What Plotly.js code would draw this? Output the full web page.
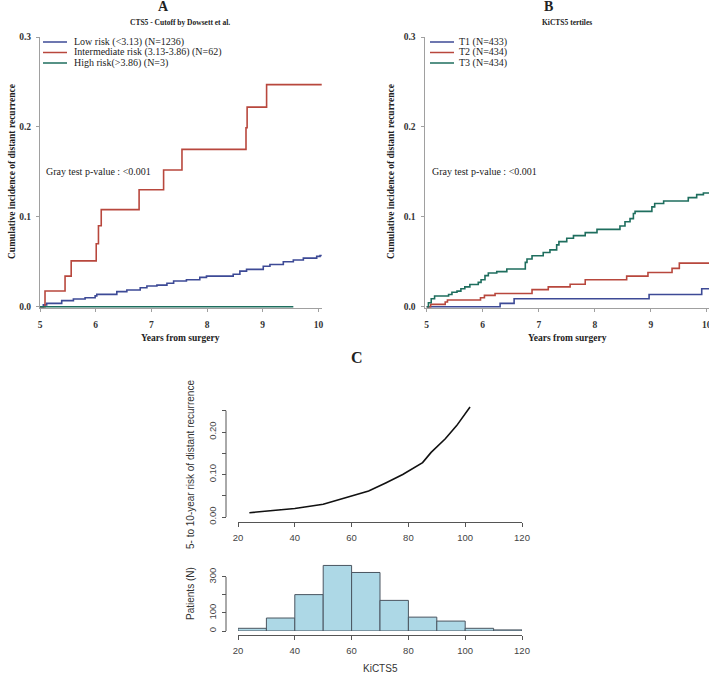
<!DOCTYPE html>
<html><head><meta charset="utf-8">
<script src="https://cdn.plot.ly/plotly-3.0.1.min.js"></script>
<style>html,body{margin:0;padding:0;background:#fff}#chart{width:709px;height:675px}</style>
</head><body><div id="chart"></div>
<script>
// ---------- Panel A: CTS5 risk groups (cumulative incidence) ----------
const lowRiskTime = [5.00,5.06,5.12,5.39,5.60,5.81,5.99,6.02,6.38,6.56,6.80,6.92,7.10,7.28,7.40,7.63,7.87,7.99,8.47,8.59,8.71,9.01,9.13,9.37,9.55,9.73,9.97,10.03,10.06];
const lowRiskCI   = [0,0.002,0.0037,0.0067,0.0085,0.010,0.012,0.0137,0.0167,0.0185,0.021,0.023,0.024,0.026,0.0285,0.030,0.0326,0.034,0.036,0.0396,0.0415,0.045,0.047,0.050,0.052,0.054,0.056,0.057,0.057];
const interRiskTime = [5.00,5.09,5.45,5.56,6.01,6.05,6.10,6.78,7.22,7.55,8.70,8.72,9.07,10.06];
const interRiskCI   = [0,0.0175,0.034,0.051,0.070,0.090,0.108,0.130,0.152,0.175,0.199,0.222,0.247,0.247];
const highRiskTime = [5.00,9.55];
const highRiskCI   = [0,0];
const seriesNamesA = ['Low risk (<3.13) (N=1236)','Intermediate risk (3.13-3.86) (N=62)','High risk(>3.86) (N=3)'];

// ---------- Panel B: KiCTS5 tertiles ----------
const t1Time = [5.00,6.31,6.56,8.97,9.91,10.04];
const t1CI   = [0,0.0037,0.0089,0.0136,0.0199,0.0199];
const t2Time = [5.00,5.07,5.33,5.37,5.96,6.03,6.22,6.88,7.17,7.56,7.83,8.57,8.95,9.38,9.51,10.04];
const t2CI   = [0,0.0026,0.0052,0.0074,0.010,0.0126,0.0147,0.019,0.022,0.025,0.030,0.034,0.038,0.0426,0.0485,0.0485];
const t3Time = [5.00,5.03,5.08,5.14,5.39,5.45,5.54,5.61,5.68,5.77,5.92,5.97,6.04,6.10,6.25,6.43,6.76,6.79,6.88,7.08,7.20,7.32,7.36,7.50,7.62,7.83,8.04,8.45,8.54,8.63,8.69,8.72,9.02,9.07,9.23,9.67,9.82,9.94,10.04];
const t3CI   = [0,0.0044,0.0088,0.0118,0.0136,0.016,0.0173,0.0199,0.022,0.0246,0.027,0.030,0.0346,0.0375,0.039,0.042,0.0493,0.053,0.0566,0.0603,0.0632,0.0688,0.0724,0.0761,0.079,0.0824,0.086,0.0897,0.0945,0.098,0.1037,0.106,0.111,0.1147,0.1176,0.1213,0.1246,0.1265,0.1265];
const seriesNamesB = ['T1 (N=433)','T2 (N=434)','T3 (N=434)'];

// ---------- Panel C: risk curve and histogram ----------
const kiScore = [24,30,40,50,58,66,72,78,85,88,93,97,101.7];
const riskVal = [0.010,0.014,0.020,0.030,0.045,0.061,0.080,0.100,0.128,0.152,0.184,0.215,0.259];
const binStart = [20,30,40,50,60,70,80,90,100,110];
const binCount = [15,72,202,364,325,170,77,55,15,6];

const xTicksAB = [5,6,7,8,9,10];
const yTicksAB = [0,0.1,0.2,0.3];
const xTicksC = [20,40,60,80,100,120];
const yTicksRisk = [0,0.05,0.10,0.15,0.20,0.25];
const yTickTextRisk = ['0.00','','0.10','','0.20',''];
const yTicksHist = [0,100,200,300];
const yTickTextHist = ['0','100','','300'];

// ---------- styling ----------
const W = 709, H = 675;
const X = p => p / W, Y = p => 1 - p / H;
const SERIF = 'Liberation Serif, Times New Roman, serif';
const SANS = 'Liberation Sans, Arial, sans-serif';
const cBlue = '#3d4a96', cRed = '#b8473d', cGreen = '#1e6e5e';

function step(x, y, color, xa, ya) {
  return {type:'scatter', mode:'lines', x:x, y:y, xaxis:xa, yaxis:ya,
          line:{shape:'hv', color:color, width:1.6}, hoverinfo:'skip'};
}

const traces = [
  step(lowRiskTime, lowRiskCI, cBlue, 'x', 'y'),
  step(interRiskTime, interRiskCI, cRed, 'x', 'y'),
  step(highRiskTime, highRiskCI, cGreen, 'x', 'y'),
  step(t1Time, t1CI, cBlue, 'x2', 'y2'),
  step(t2Time, t2CI, cRed, 'x2', 'y2'),
  step(t3Time, t3CI, cGreen, 'x2', 'y2'),
  {type:'scatter', mode:'lines', x:kiScore, y:riskVal, xaxis:'x3', yaxis:'y3',
   line:{color:'#111', width:1.6}, hoverinfo:'skip'},
  {type:'bar', x:binStart.map(b => b + 5), y:binCount, width:10, xaxis:'x4', yaxis:'y4',
   marker:{color:'#add8e6', line:{color:'#4a5560', width:1}}, hoverinfo:'skip'}
];

const axAB = (dom, rng, ticks, fmt) => ({
  domain:dom, range:rng, tickvals:ticks, tickformat:fmt, showgrid:false, zeroline:false,
  showline:true, linecolor:'#a0a0a0', linewidth:1, ticks:'outside', ticklen:3, tickcolor:'#a0a0a0',
  tickfont:{family:SERIF, size:9.5, color:'#333', weight:'bold'}, fixedrange:true, ticklabeloverflow:'allow'
});

const xA = axAB([X(40), X(322)], [5, 10.065], xTicksAB, 'd'); xA.anchor='y'; xA.ticklabelstandoff = 4;
const yA = axAB([Y(308.3), Y(37)], [-0.0018, 0.3], yTicksAB, '.1f'); yA.anchor='x'; yA.ticklabelstandoff = 3;
const xB = axAB([X(424.5), 1], [4.96, 10.04], xTicksAB, 'd'); xB.anchor='y2'; xB.ticklabelstandoff = 4;
const yB = axAB([Y(308.3), Y(37)], [-0.0018, 0.3], yTicksAB, '.1f'); yB.anchor='x2'; yB.ticklabelstandoff = 3;

const axC = {showgrid:false, zeroline:false, ticks:'outside', ticklen:4, tickcolor:'#555',
  tickfont:{family:SANS, size:9.5, color:'#444'}, fixedrange:true};

const xC = Object.assign({}, axC, {domain:[X(238), X(522)], range:[20,120], tickvals:xTicksC,
  anchor:'free', position:Y(522), showline:true, linecolor:'#555', linewidth:1, ticklabelstandoff:3});
const yC = Object.assign({}, axC, {domain:[Y(517), Y(402)], range:[0, 0.2706], tickvals:yTicksRisk,
  ticktext:yTickTextRisk, tickangle:-90, anchor:'free', position:X(226), showline:false, ticklabelstandoff:2});
const xD = Object.assign({}, axC, {domain:[X(238), X(522)], range:[20,120], tickvals:xTicksC,
  anchor:'free', position:Y(635), showline:true, linecolor:'#555', linewidth:1, ticklabelstandoff:3});
const yD = Object.assign({}, axC, {domain:[Y(631), Y(564)], range:[0, 372], tickvals:yTicksHist,
  ticktext:yTickTextHist, tickangle:-90, anchor:'free', position:X(226), showline:false, ticklabelstandoff:2});

function ann(text, px, py, opts) {
  return Object.assign({text:text, x:X(px), y:Y(py), xref:'paper', yref:'paper', showarrow:false,
    xanchor:'center', yanchor:'middle'}, opts || {});
}
const serif = (size, bold) => ({family:SERIF, size:size, color:'#222', weight: bold ? 'bold' : 'normal'});

const annotations = [
  ann('A', 163, 7, {font:serif(14, true)}),
  ann('CTS5 - Cutoff by Dowsett et al.', 180, 23, {font:serif(7.5, true)}),
  ann('B', 548, 7, {font:serif(14, true)}),
  ann('KiCTS5 tertiles', 567, 23, {font:serif(7.5, true)}),
  ann('Cumulative incidence of distant recurrence', 12, 172, {textangle:-90, font:serif(9.5, true)}),
  ann('Cumulative incidence of distant recurrence', 391, 172, {textangle:-90, font:serif(9.5, true)}),
  ann('Years from surgery', 180, 338, {font:serif(9.5, true)}),
  ann('Years from surgery', 567, 338, {font:serif(9.5, true)}),
  ann('Gray test p-value : <0.001', 44, 171, {xanchor:'left', font:serif(10)}),
  ann('Gray test p-value : <0.001', 430, 171, {xanchor:'left', font:serif(10)}),
  ann('C', 357, 357, {font:serif(16, true)}),
  ann('5- to 10-year risk of distant recurrence', 190, 465, {textangle:-90, font:{family:SANS, size:10, color:'#333'}}),
  ann('Patients (N)', 190, 594, {textangle:-90, font:{family:SANS, size:10, color:'#333'}}),
  ann('KiCTS5', 380, 668, {font:{family:SANS, size:10, color:'#333'}})
];
const legRowsY = [42, 52.5, 63];
const colorsLeg = [cBlue, cRed, cGreen];
const shapes = [];
seriesNamesA.forEach((n, i) => {
  annotations.push(ann(n, 72, legRowsY[i], {xanchor:'left', font:serif(10)}));
  shapes.push({type:'line', xref:'paper', yref:'paper', x0:X(43), x1:X(67), y0:Y(legRowsY[i]), y1:Y(legRowsY[i]),
    line:{color:colorsLeg[i], width:1.5}});
});
seriesNamesB.forEach((n, i) => {
  annotations.push(ann(n, 457, legRowsY[i], {xanchor:'left', font:serif(10)}));
  shapes.push({type:'line', xref:'paper', yref:'paper', x0:X(430), x1:X(454), y0:Y(legRowsY[i]), y1:Y(legRowsY[i]),
    line:{color:colorsLeg[i], width:1.5}});
});
// R-style y axis lines spanning first to last tick
shapes.push({type:'line', xref:'paper', yref:'y3', x0:X(226), x1:X(226), y0:0, y1:0.25, line:{color:'#555', width:1}});
shapes.push({type:'line', xref:'paper', yref:'y4', x0:X(226), x1:X(226), y0:0, y1:300, line:{color:'#555', width:1}});

const layout = {
  width:W, height:H, margin:{l:0, r:0, t:0, b:0}, paper_bgcolor:'#fff', plot_bgcolor:'rgba(0,0,0,0)',
  showlegend:false, hovermode:false,
  xaxis:xA, yaxis:yA, xaxis2:xB, yaxis2:yB, xaxis3:xC, yaxis3:yC, xaxis4:xD, yaxis4:yD,
  annotations:annotations, shapes:shapes
};
Plotly.newPlot('chart', traces, layout, {staticPlot:true, displayModeBar:false});
</script></body></html>
